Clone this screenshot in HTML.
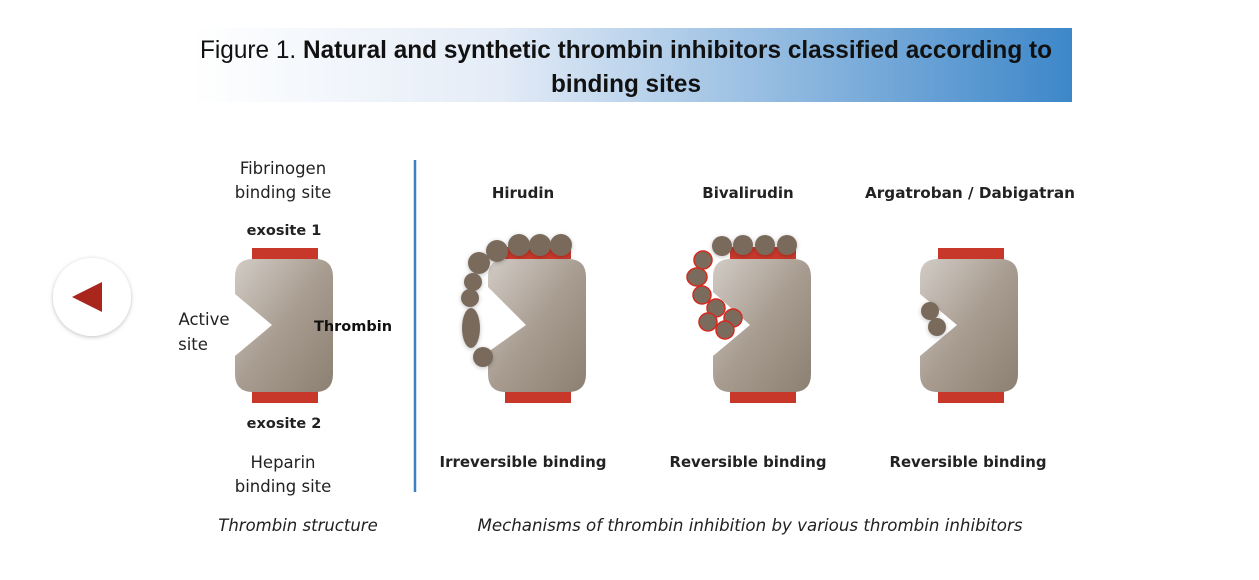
<!DOCTYPE html>
<html><head><meta charset="utf-8"><style>
body{margin:0;width:1259px;height:575px;background:#fff;overflow:hidden;font-family:"Liberation Sans",sans-serif}
</style></head><body>
<svg width="1259" height="575" xmlns="http://www.w3.org/2000/svg">
<defs>
<linearGradient id="tg" x1="0" x2="1"><stop offset="0" stop-color="#fff"/><stop offset="0.35" stop-color="#e4ecf7"/><stop offset="1" stop-color="#3d87c9"/></linearGradient>
<linearGradient id="bg" x1="0" y1="0" x2="1" y2="1"><stop offset="0" stop-color="#d2ccc6"/><stop offset="0.5" stop-color="#a89c90"/><stop offset="1" stop-color="#8c8073"/></linearGradient>
<filter id="sh" x="-30%" y="-30%" width="160%" height="160%"><feDropShadow dx="0" dy="1" stdDeviation="2" flood-color="#000" flood-opacity="0.25"/></filter>
</defs>
<g>
<rect x="190" y="28" width="882" height="74" fill="url(#tg)"/>
<text x="626" y="58" text-anchor="middle" font-size="25" fill="#111" textLength="852" lengthAdjust="spacingAndGlyphs"><tspan>Figure 1. </tspan><tspan font-weight="bold">Natural and synthetic thrombin inhibitors classified according to</tspan></text>
<text x="626" y="92" text-anchor="middle" font-size="25" font-weight="bold" fill="#111" textLength="150" lengthAdjust="spacingAndGlyphs">binding sites</text>
</g>
<g filter="url(#sh)">
<circle cx="92" cy="297" r="39" fill="#fff"/>
<polygon points="72,297 102,282 102,312" fill="#a8281c"/>
</g>
<line x1="415" y1="160" x2="415" y2="492" stroke="#3d80c0" stroke-width="2.5"/>
<g>
<rect x="252" y="248" width="66" height="12" fill="#c8382a"/><rect x="252" y="391" width="66" height="12" fill="#c8382a"/>
<path d="M253,259 H315 Q333,259 333,277 V374 Q333,392 315,392 H253 Q235,392 235,374 V356 L272,325 L235,294 V277 Q235,259 253,259Z" fill="url(#bg)"/>
</g>
<g>
<rect x="505" y="247" width="66" height="12" fill="#c8382a"/><rect x="505" y="391" width="66" height="12" fill="#c8382a"/>
<path d="M506,259 H568 Q586,259 586,277 V374 Q586,392 568,392 H506 Q488,392 488,374 V352 L526,325 L488,287 V277 Q488,259 506,259Z" fill="url(#bg)"/>
<g fill="#7a6b5c" filter="url(#sh)">
<circle cx="519" cy="245" r="11"/><circle cx="540" cy="245" r="11"/><circle cx="561" cy="245" r="11"/><circle cx="497" cy="251" r="11"/>
<circle cx="479" cy="263" r="11"/><circle cx="473" cy="282" r="9"/><circle cx="470" cy="298" r="9"/>
<ellipse cx="471" cy="328" rx="9" ry="20"/><circle cx="483" cy="357" r="10"/>
</g></g>
<g>
<rect x="730" y="247" width="66" height="12" fill="#c8382a"/><rect x="730" y="391" width="66" height="12" fill="#c8382a"/>
<path d="M731,259 H793 Q811,259 811,277 V374 Q811,392 793,392 H731 Q713,392 713,374 V356 L750,325 L713,292 V277 Q713,259 731,259Z" fill="url(#bg)"/>
<g fill="#7a6b5c" filter="url(#sh)">
<circle cx="722" cy="246" r="10"/><circle cx="743" cy="245" r="10"/><circle cx="765" cy="245" r="10"/><circle cx="787" cy="245" r="10"/>
</g>
<g fill="#7a6b5c" stroke="#d42a20" stroke-width="1.5">
<circle cx="703" cy="260" r="9"/><ellipse cx="697" cy="277" rx="10" ry="9"/><circle cx="702" cy="295" r="9"/><circle cx="716" cy="308" r="9"/>
<circle cx="733" cy="318" r="9"/><circle cx="708" cy="322" r="9"/><circle cx="725" cy="330" r="9"/>
</g></g>
<g>
<rect x="938" y="248" width="66" height="12" fill="#c8382a"/><rect x="938" y="391" width="66" height="12" fill="#c8382a"/>
<path d="M938,259 H1000 Q1018,259 1018,277 V374 Q1018,392 1000,392 H938 Q920,392 920,374 V356 L957,325 L920,294 V277 Q920,259 938,259Z" fill="url(#bg)"/>
<g fill="#7a6b5c" filter="url(#sh)"><circle cx="930" cy="311" r="9"/><circle cx="937" cy="327" r="9"/></g>
</g>
<g font-family="'DejaVu Sans','Liberation Sans',sans-serif" font-size="16.5" fill="#222">
<text x="283" y="174" text-anchor="middle">Fibrinogen</text>
<text x="283" y="198" text-anchor="middle">binding site</text>
<text x="284" y="235" text-anchor="middle" font-weight="bold" font-size="14.5">exosite 1</text>
<text x="204" y="325" text-anchor="middle">Active</text>
<text x="193" y="350" text-anchor="middle">site</text>
<text x="353" y="331" text-anchor="middle" font-weight="bold" font-size="14.5" fill="#111">Thrombin</text>
<text x="284" y="428" text-anchor="middle" font-weight="bold" font-size="14.5">exosite 2</text>
<text x="283" y="468" text-anchor="middle">Heparin</text>
<text x="283" y="492" text-anchor="middle">binding site</text>
<text x="298" y="531" text-anchor="middle" font-style="italic">Thrombin structure</text>
<text x="750" y="531" text-anchor="middle" font-style="italic" textLength="545" lengthAdjust="spacingAndGlyphs">Mechanisms of thrombin inhibition by various thrombin inhibitors</text>
<text x="523" y="198" text-anchor="middle" font-weight="bold" font-size="15">Hirudin</text>
<text x="748" y="198" text-anchor="middle" font-weight="bold" font-size="15">Bivalirudin</text>
<text x="970" y="198" text-anchor="middle" font-weight="bold" font-size="15" textLength="210" lengthAdjust="spacingAndGlyphs">Argatroban / Dabigatran</text>
<text x="523" y="467" text-anchor="middle" font-weight="bold" font-size="15" textLength="167" lengthAdjust="spacingAndGlyphs">Irreversible binding</text>
<text x="748" y="467" text-anchor="middle" font-weight="bold" font-size="15" textLength="157" lengthAdjust="spacingAndGlyphs">Reversible binding</text>
<text x="968" y="467" text-anchor="middle" font-weight="bold" font-size="15" textLength="157" lengthAdjust="spacingAndGlyphs">Reversible binding</text>
</g>
</svg>
</body></html>
